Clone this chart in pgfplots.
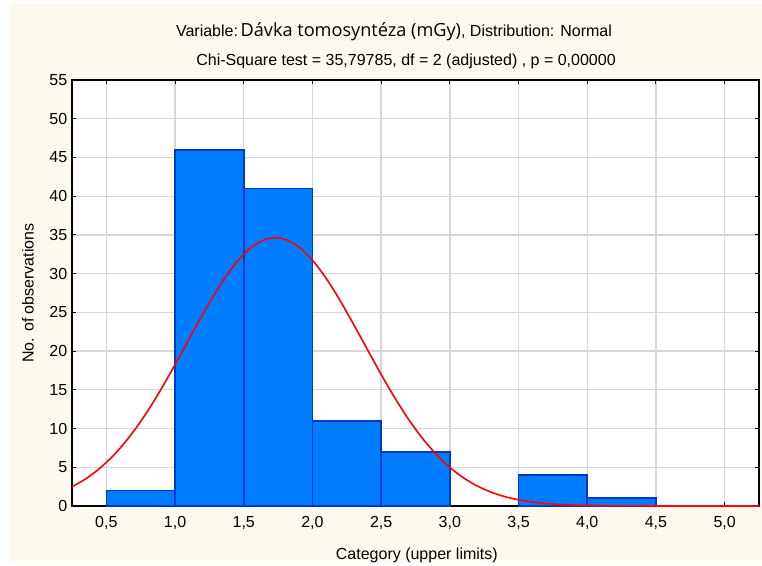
\documentclass[border=0pt]{standalone}
\usepackage{fontspec}
\setmainfont{Liberation Sans}
\newfontfamily\varfont{Open Sans}
\usepackage{pgfplots}
\pgfplotsset{compat=1.18}
\definecolor{bg}{RGB}{253,249,238}
\definecolor{barfill}{RGB}{0,125,255}
\definecolor{baredge}{RGB}{0,56,200}
\definecolor{gridc}{RGB}{215,215,215}
\begin{document}
\begin{tikzpicture}
\useasboundingbox (-54pt,-44.25pt) rectangle (517.5pt,379.5pt);
\fill[white] (-54pt,-44.25pt) rectangle (517.5pt,379.5pt);
\fill[bg] (-46.5pt,-42.75pt) rectangle (517.5pt,376.5pt);
\begin{axis}[
  name=ax,
  at={(0,0)}, anchor=south west,
  scale only axis, width=515.25pt, height=319.5pt,
  xmin=0.25, xmax=5.25, ymin=0, ymax=55,
  xtick={0.5,1.0,1.5,2.0,2.5,3.0,3.5,4.0,4.5,5.0},
  ytick={0,5,10,15,20,25,30,35,40,45,50,55},
  axis background/.style={fill=white},
  grid=major,
  major grid style={gridc, line width=1pt},
  tick align=inside,
  major tick length=3pt,
  tick style={black, line width=0.8pt},
  axis line style={black, line width=1.2pt},
  every tick label/.append style={font=\fontsize{12}{14}\selectfont},
  /pgf/number format/assume math mode=true,
  xticklabel style={yshift=-4pt, /pgf/number format/.cd, use comma, fixed, fixed zerofill, precision=1},
  yticklabel style={/pgf/number format/.cd, fixed, precision=0},
  xlabel={Category (upper limits)},
  xlabel style={at={(axis description cs:0.5,0)}, anchor=center, yshift=-36.75pt, xshift=1pt, font=\fontsize{12}{14}\selectfont},
  ylabel={No. of observations},
  ylabel style={at={(axis description cs:0,0.5)}, anchor=center, yshift=33pt, font=\fontsize{12}{14}\selectfont},
]
\addplot[ybar interval, fill=barfill, draw=baredge, line width=1.2pt]
  coordinates {(0.5,2) (1.0,46) (1.5,41) (2.0,11) (2.5,7) (3.0,0)};
\addplot[ybar interval, fill=barfill, draw=baredge, line width=1.2pt]
  coordinates {(3.5,4) (4.0,1) (4.5,0)};
\addplot[red, line width=1.2pt, smooth] coordinates {
 (0.25,2.49) (0.35,3.51) (0.45,4.84) (0.55,6.50) (0.65,8.53) (0.75,10.92)
 (0.85,13.65) (0.95,16.67) (1.05,19.87) (1.15,23.12) (1.25,26.26) (1.35,29.12)
 (1.45,31.53) (1.55,33.32) (1.65,34.37) (1.73,34.64) (1.80,34.44) (1.90,33.46)
 (2.00,31.73) (2.10,29.39) (2.20,26.56) (2.30,23.44) (2.40,20.20) (2.50,16.99)
 (2.60,13.95) (2.70,11.18) (2.80,8.75) (2.90,6.69) (3.00,4.98) (3.10,3.63)
 (3.20,2.58) (3.30,1.79) (3.40,1.21) (3.50,0.80) (3.60,0.52) (3.70,0.33)
 (3.80,0.20) (3.90,0.12) (4.00,0.07) (4.20,0.023) (4.50,0.003) (5.00,0.0) (5.25,0.0)
};
\end{axis}
\node[font=\fontsize{12}{14}\selectfont, anchor=center] at (241.5pt,355.5pt)
  {Variable:\,{\varfont\fontsize{13.6}{16}\selectfont Dávka tomosyntéza (mGy)}, Distribution: Normal};
\node[font=\fontsize{12}{14}\selectfont, anchor=center] at (250.5pt,333.75pt)
  {Chi-Square test = 35,79785, df = 2 (adjusted) , p = 0,00000};
\end{tikzpicture}
\end{document}
